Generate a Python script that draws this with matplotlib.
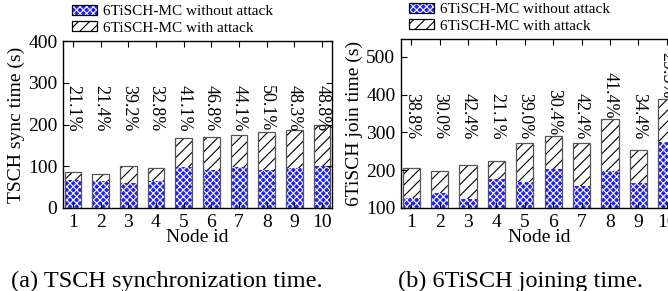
import numpy as np
import matplotlib
matplotlib.use('Agg')
import matplotlib.pyplot as plt
from matplotlib.patches import Patch

plt.rcParams['font.family'] = ['Liberation Serif', 'DejaVu Serif']
plt.rcParams['hatch.linewidth'] = 0.8

nodes = [1, 2, 3, 4, 5, 6, 7, 8, 9, 10]

# (a) TSCH sync time (s)
sync_no_attack = [68, 64, 60, 64, 98, 90, 98, 90, 97, 101]
sync_with_attack = [86, 82, 100, 96, 168, 170, 176, 182, 187, 200]
sync_pct = ['21.1%', '21.4%', '39.2%', '32.8%', '41.1%', '46.8%', '44.1%', '50.1%', '48.3%', '48.8%']

# (b) 6TiSCH join time (s)
join_no_attack = [126, 140, 124, 176, 168, 203, 157, 197, 167, 274]
join_with_attack = [205, 199, 214, 225, 271, 291, 271, 335, 253, 388]
join_pct = ['38.8%', '30.0%', '42.4%', '21.1%', '39.0%', '30.4%', '42.4%', '41.4%', '34.4%', '29.5%']

BLUE = '#1f1fff'
EDGE = '#555555'
W = 0.6


def draw(ax, base, total, pct, bottom, label_floor, label_gap):
    x = np.array(nodes)
    base = np.array(base)
    total = np.array(total)
    ax.bar(x, base - bottom, W, bottom=bottom, color=BLUE, edgecolor='white',
           hatch='xxxxx', lw=0)
    ax.bar(x, total - base, W, bottom=base, color='white', edgecolor='black',
           hatch='///', lw=0)
    ax.bar(x, total - bottom, W, bottom=bottom, fill=False, edgecolor=EDGE, lw=0.9)
    ly = np.maximum(label_floor, total + label_gap)
    for xi, yi, t in zip(x, ly, pct):
        ax.text(xi, yi, t, rotation=-90, ha='center', va='top', fontsize=13)
    ax.set_xlim(0.64, 10.36)
    ax.set_xticks(nodes)
    ax.tick_params(direction='in', top=True, right=True, labelsize=14, length=4, pad=4)
    ax.set_xlabel('Node id', fontsize=14, labelpad=-1)
    for s in ax.spines.values():
        s.set_linewidth(1)


def add_legend(ax, fig, x0, y0):
    h1 = (Patch(facecolor=BLUE, edgecolor='white', hatch='xxxxx', lw=0),
          Patch(fill=False, edgecolor='black', lw=0.9))
    h2 = (Patch(facecolor='white', edgecolor='black', hatch='///', lw=0),
          Patch(fill=False, edgecolor='black', lw=0.9))
    ax.legend([h1, h2], ['6TiSCH-MC without attack', '6TiSCH-MC with attack'],
              loc='upper left', bbox_to_anchor=(x0 / 668, 1 - y0 / 291),
              bbox_transform=fig.transFigure, frameon=False, fontsize=11,
              borderaxespad=0, borderpad=0, labelspacing=0.2, handlelength=1.65,
              handleheight=0.6, handletextpad=0.35)


fig = plt.figure(figsize=(6.68, 2.91), dpi=100)

ax1 = fig.add_axes([63 / 668, 1 - 208 / 291, 269 / 668, 167 / 291])
draw(ax1, sync_no_attack, sync_with_attack, sync_pct, 0, 295, 0)
ax1.set_ylim(0, 400)
ax1.set_yticks([0, 100, 200, 300, 400])
ax1.set_ylabel('TSCH sync time (s)', fontsize=14, labelpad=2)
add_legend(ax1, fig, 72, 5)

ax2 = fig.add_axes([401 / 668, 1 - 208 / 291, 276 / 668, 169 / 291])
draw(ax2, join_no_attack, join_with_attack, join_pct, 100, 405, 125)
ax2.set_ylim(100, 547)
ax2.set_yticks([100, 200, 300, 400, 500])
ax2.set_ylabel('6TiSCH join time (s)', fontsize=14, labelpad=2)
add_legend(ax2, fig, 409, 3)

fig.text(167 / 668, 1 - 281 / 291, '(a) TSCH synchronization time.', ha='center',
         va='center', fontsize=17.5)
fig.text(520 / 668, 1 - 281 / 291, '(b) 6TiSCH joining time.', ha='center',
         va='center', fontsize=17.5)

fig.savefig('out.png', dpi=100)
